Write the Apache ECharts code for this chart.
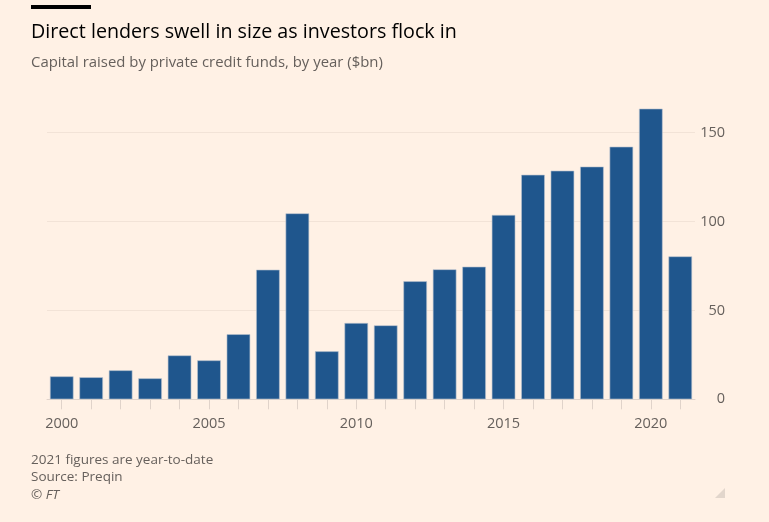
<!DOCTYPE html>
<html>
<head>
<meta charset="utf-8">
<script src="https://cdn.jsdelivr.net/npm/echarts@6/dist/echarts.min.js"></script>
<style>
html,body{margin:0;padding:0;background:#FFF1E5;}
#c{width:769px;height:522px;}
</style>
</head>
<body>
<div id="c"></div>
<script>
const years = ['2000','2001','2002','2003','2004','2005','2006','2007','2008','2009','2010','2011','2012','2013','2014','2015','2016','2017','2018','2019','2020','2021'];
const capitalRaised = [12.9, 12.4, 16.3, 11.8, 24.7, 21.9, 36.6, 72.9, 104.6, 27.0, 42.9, 41.6, 66.4, 73.1, 74.6, 103.7, 126.3, 128.6, 130.9, 142.1, 163.5, 80.4];
const yTicks = [0, 50, 100, 150];

const chart = echarts.init(document.getElementById('c'), null, {renderer: 'canvas'});
const font = '"Open Sans", "Noto Sans", sans-serif';
const footStyle = {fontFamily: font, fontSize: 13.5, fontWeight: 'normal', color: '#66605C'};
chart.setOption({
  backgroundColor: '#FFF1E5',
  animation: false,
  title: [
    {text: 'Direct lenders swell in size as investors flock in', left: 31, top: 22, padding: 0,
     textStyle: {fontFamily: font, fontSize: 19.7, fontWeight: 'normal', color: '#000000'}},
    {text: 'Capital raised by private credit funds, by year ($bn)', left: 31, top: 55, padding: 0,
     textStyle: {fontFamily: font, fontSize: 14.9, fontWeight: 'normal', color: '#66605C'}},
    {text: '2021 figures are year-to-date', left: 31, top: 453, padding: 0, textStyle: footStyle},
    {text: 'Source: Preqin', left: 31, top: 470.5, padding: 0, textStyle: footStyle},
    {text: '© FT', left: 31, top: 488, padding: 0,
     textStyle: Object.assign({}, footStyle, {fontStyle: 'italic'})}
  ],
  graphic: [
    {type: 'rect', shape: {x: 31, y: 5, width: 60, height: 4}, style: {fill: '#000000'}},
    {type: 'polygon', shape: {points: [[725, 488], [725, 498], [715, 498]]}, style: {fill: '#E2D6CC'}}
  ],
  grid: {left: 47, right: 74, top: 97.1, bottom: 122.7, containLabel: false},
  xAxis: {
    type: 'category',
    data: years,
    axisLine: {show: true, lineStyle: {color: '#E0D3CA', width: 1}},
    axisTick: {show: true, alignWithLabel: true, length: 10, interval: 0, lineStyle: {color: '#E0D3CA'}},
    axisLabel: {interval: 4, margin: 17, fontFamily: font, fontSize: 14.5, color: '#66605C'}
  },
  yAxis: {
    type: 'value',
    position: 'right',
    min: 0, max: 170, interval: 50,
    axisLine: {show: false},
    axisTick: {show: false},
    splitLine: {show: true, showMaxLine: false, showMinLine: false, lineStyle: {color: '#F2E3D7', width: 1}},
    axisLabel: {
      margin: 30, align: 'right', fontFamily: font, fontSize: 14.5, color: '#66605C',
      showMaxLabel: false,
      formatter: v => yTicks.includes(v) ? String(v) : ''
    }
  },
  series: [{
    type: 'bar',
    data: capitalRaised,
    barCategoryGap: '20%',
    itemStyle: {color: '#1F568D', borderColor: '#B9C3CF', borderWidth: 0.6},
    emphasis: {disabled: true}
  }]
});
</script>
</body>
</html>
